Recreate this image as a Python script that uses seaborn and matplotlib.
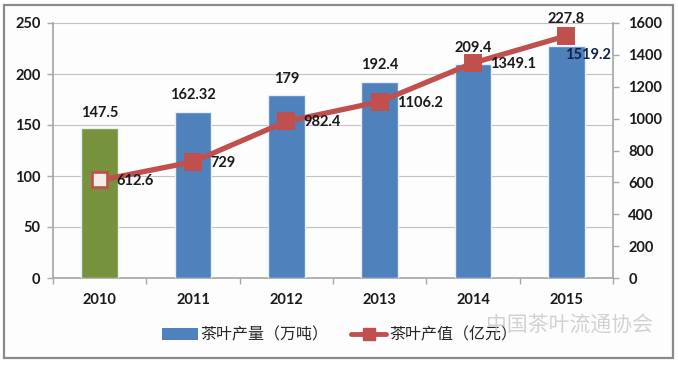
import matplotlib
matplotlib.use("Agg")
import matplotlib.pyplot as plt
import seaborn as sns
import pandas as pd
from matplotlib.patches import Patch, Rectangle
from matplotlib.lines import Line2D

years = ["2010", "2011", "2012", "2013", "2014", "2015"]
output_wt = [147.5, 162.32, 179, 192.4, 209.4, 227.8]
output_val = [612.6, 729, 982.4, 1106.2, 1349.1, 1519.2]
bar_labels = ["147.5", "162.32", "179", "192.4", "209.4", "227.8"]
val_labels = ["612.6", "729", "982.4", "1106.2", "1349.1", "1519.2"]
left_ticks = [0, 50, 100, 150, 200, 250]
right_ticks = [0, 200, 400, 600, 800, 1000, 1200, 1400, 1600]
bar_colors = ["#76923C", "#4F81BD", "#4F81BD", "#4F81BD", "#4F81BD", "#4F81BD"]
legend_bar = "茶叶产量（万吨）"
legend_line = "茶叶产值（亿元）"
watermark = "中国茶叶流通协会"

sns.set_theme(style="white")
plt.rcParams["font.family"] = ["Lato", "Noto Sans CJK SC", "DejaVu Sans"]
W, H = 678, 365
fig = plt.figure(figsize=(W / 100, H / 100), dpi=100, facecolor="white")
fig.add_artist(Rectangle((3.5 / W, 1 - 358 / H), 669 / W, 353 / H, transform=fig.transFigure,
                         fc="#FDFDFD", ec="#8A8A8A", lw=1.6, zorder=-5))

ax = fig.add_axes([53 / W, 1 - 278 / H, 560 / W, 255 / H])
ax.patch.set_alpha(0)
df = pd.DataFrame({"year": years, "wt": output_wt, "val": output_val})
GREY = "#A8A8A8"
TXT = "#1A1A1A"
FS = 10.5

sns.barplot(data=df, x="year", y="wt", hue="year", palette=bar_colors, legend=False,
            width=0.39, ax=ax, saturation=1, edgecolor="#E6EEF6", linewidth=1.0, zorder=3)
ax.set_ylim(0, 250)
ax.set_xlim(-0.5, 5.5)
ax.set_yticks(left_ticks)
ax.set_yticklabels([str(t) for t in left_ticks], fontweight="bold")
ax.set_xticks(range(len(years)))
ax.set_xticklabels(years, fontweight="bold")
ax.yaxis.grid(True, color="#C2C2C2", lw=0.8)
ax.set_axisbelow(True)
ax.set_xlabel("")
ax.set_ylabel("")
ax.set_xticks([i - 0.5 for i in range(7)], minor=True)
ax.tick_params(axis="x", which="minor", length=4, color=GREY, width=1, bottom=True)
ax.tick_params(axis="x", which="major", length=0, pad=11, labelsize=FS, labelcolor=TXT)
ax.tick_params(axis="y", length=4, color=GREY, width=1, left=True, pad=5, labelsize=FS, labelcolor=TXT)
for s in ["top", "right"]:
    ax.spines[s].set_visible(False)
for s in ["left", "bottom"]:
    ax.spines[s].set_color(GREY)

ax2 = ax.twinx()
ax2.patch.set_alpha(0)
sns.pointplot(data=df, x="year", y="val", color="#C0504D", markers="s", ax=ax2,
              linewidth=3.8, markersize=10.5, errorbar=None, zorder=5)
ax2.set_ylim(0, 1600)
ax2.set_xlim(-0.5, 5.5)
ax2.set_yticks(right_ticks)
ax2.set_yticklabels([str(t) for t in right_ticks], fontweight="bold")
ax2.grid(False)
ax2.tick_params(axis="y", length=4, color=GREY, width=1, right=True, pad=7, labelsize=FS, labelcolor=TXT)
for s in ["top", "left", "bottom"]:
    ax2.spines[s].set_visible(False)
ax2.spines["right"].set_color(GREY)

# first marker drawn pale, as in the source
sns.scatterplot(x=[years[0]], y=[output_val[0]], marker="s", s=105, color="#F2EEE6",
                edgecolor="#C0504D", linewidth=1.2, ax=ax2, zorder=6)
ax2.set_xlim(-0.5, 5.5)
ax2.set_ylabel("")
ax2.set_xlabel("")

ax.set_zorder(1)
ax2.set_zorder(2)
bar_offsets = [15, 17, 16, 17, 16, 27]
for i, (v, t, dy) in enumerate(zip(output_wt, bar_labels, bar_offsets)):
    ax.annotate(t, (i, v), xytext=(0, dy * 0.72), textcoords="offset points", ha="center", va="center",
                fontsize=FS, fontweight="bold", color=TXT, zorder=8, annotation_clip=False)
for i, (v, t) in enumerate(zip(output_val, val_labels)):
    dx, dy = (17, -1) if i < 5 else (-1, -19)
    color = TXT if i < 5 else "#10214A"
    ax2.annotate(t, (i, v), xytext=(dx * 0.72, dy * 0.72), textcoords="offset points", ha="left", va="center",
                 fontsize=FS, fontweight="bold", color=color, zorder=8, annotation_clip=False)

handles = [Patch(fc="#4F81BD", ec="none"),
           Line2D([], [], color="#C0504D", lw=3.5, marker="s", ms=8)]
fig.legend(handles, [legend_bar, legend_line], loc="center", bbox_to_anchor=(340 / W, 1 - 335 / H),
           ncol=2, frameon=False, handlelength=2.2, handleheight=0.8, columnspacing=1.4,
           handletextpad=0.2, prop={"family": ["Noto Sans CJK SC", "DejaVu Sans"], "size": 11.5})
fig.text(570 / W, 1 - 326 / H, watermark, family=["Noto Sans CJK SC", "DejaVu Sans"], fontsize=15,
         color="#C4C4C4", alpha=0.75, ha="center", va="center", zorder=10)
fig.savefig("out.png", dpi=100)
